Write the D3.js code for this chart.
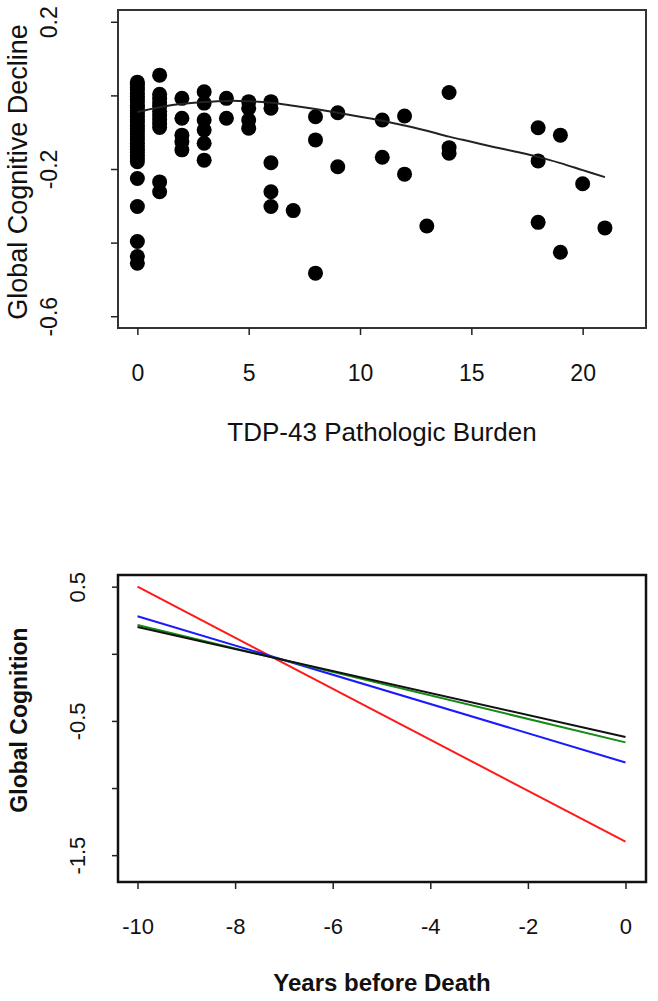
<!DOCTYPE html>
<html><head><meta charset="utf-8">
<script src="https://cdn.jsdelivr.net/npm/d3@7"></script>
<style>
body{margin:0;background:#fff}
text{font-family:"Liberation Sans", Arial, Helvetica, sans-serif;fill:#111}
</style>
</head><body>
<svg id="c" width="658" height="1001"></svg>
<script>
// ---------- Top panel data: TDP-43 burden vs global cognitive decline ----------
const tdpBurden = [
  0,0,0,0,0,0,0,0,0,0,0,0,0,0,0,0,0,0,0,0,0,0,0,0,0,0,0,0,0,0,0,0,0,
  1,1,1,1,1,1,1,1,1,1,1,1,
  2,2,2,2,2,
  3,3,3,3,3,3,
  4,4,
  5,5,5,5,
  6,6,6,6,6,
  7,
  8,8,8,
  9,9,
  11,11,
  12,12,
  13,
  14,14,14,
  18,18,18,
  19,19,
  20,
  21
];
const cogDecline = [
  0.036,0.030,0.021,0.015,0.006,-0.002,-0.011,-0.018,-0.027,-0.033,-0.042,-0.050,-0.057,-0.066,-0.072,-0.081,-0.090,-0.097,-0.105,-0.113,-0.121,-0.130,-0.138,-0.146,-0.155,-0.163,-0.170,-0.180,-0.226,-0.302,-0.397,-0.438,-0.456,
  0.055,0.003,-0.008,-0.020,-0.030,-0.043,-0.055,-0.066,-0.077,-0.087,-0.235,-0.262,
  -0.008,-0.062,-0.108,-0.126,-0.148,
  0.010,-0.021,-0.067,-0.094,-0.130,-0.176,
  -0.008,-0.062,
  -0.017,-0.035,-0.067,-0.089,
  -0.017,-0.035,-0.183,-0.262,-0.302,
  -0.313,
  -0.058,-0.121,-0.483,
  -0.047,-0.194,
  -0.067,-0.168,
  -0.056,-0.214,
  -0.355,
  0.008,-0.142,-0.157,
  -0.088,-0.178,-0.345,
  -0.108,-0.426,
  -0.240,
  -0.360
];
// smooth fit
const fitX = [0,1,2,3,4,5,6,7,8,9,10,11,12,13,14,15,16,17,18,19,20,21];
const fitY = [-0.045,-0.032,-0.023,-0.018,-0.015,-0.016,-0.020,-0.028,-0.037,-0.047,-0.058,-0.069,-0.082,-0.096,-0.112,-0.126,-0.140,-0.153,-0.167,-0.184,-0.203,-0.222];
const topXTicks = [0,5,10,15,20];
const topYTicks = [0.2,0,-0.2,-0.4,-0.6];
const topYTickLabels = ["0.2","","-0.2","","-0.6"];

// ---------- Bottom panel data: trajectories ----------
const years = [-10, 0];
const redLine   = [0.50, -1.40];
const blueLine  = [0.28, -0.81];
const greenLine = [0.215, -0.66];
const blackLine = [0.20, -0.62];
const botXTicks = [-10,-8,-6,-4,-2,0];
const botYTicks = [0.5,0,-0.5,-1,-1.5];
const botYTickLabels = ["0.5","","-0.5","","-1.5"];

const svg = d3.select("#c");
const fmt = d => String(d);

// ===== TOP PANEL =====
const tx = d3.scaleLinear().domain([-0.87, 22.8]).range([118, 645]);
const ty = d3.scaleLinear().domain([-0.632, 0.232]).range([328, 10]);
const topG = svg.append("g");

topG.selectAll("circle").data(tdpBurden).join("circle")
  .attr("cx", d => tx(d))
  .attr("cy", (d,i) => ty(cogDecline[i]))
  .attr("r", 7.5)
  .attr("fill", "#000");

topG.append("path")
  .datum(fitX.map((d,i)=>[d, fitY[i]]))
  .attr("d", d3.line().x(d=>tx(d[0])).y(d=>ty(d[1])).curve(d3.curveCatmullRom))
  .attr("fill","none").attr("stroke","#222").attr("stroke-width",2);

topG.append("rect").attr("x",118).attr("y",10).attr("width",528).attr("height",318)
  .attr("fill","none").attr("stroke","#333").attr("stroke-width",2);

const txAxis = topG.append("g").attr("transform","translate(0,328)")
  .call(d3.axisBottom(tx).tickValues(topXTicks).tickSize(7).tickFormat(fmt));
txAxis.select(".domain").remove();
txAxis.selectAll("line").attr("stroke","#222").attr("stroke-width",1.5);
txAxis.selectAll("text").attr("y",45).attr("dy","0.35em").style("font-size","23px").attr("fill","#111");

const tyAxis = topG.append("g").attr("transform","translate(118,0)")
  .call(d3.axisLeft(ty).tickValues(topYTicks).tickSize(7).tickFormat((d,i)=>topYTickLabels[i]));
tyAxis.select(".domain").remove();
tyAxis.selectAll("line").attr("stroke","#222").attr("stroke-width",1.5);
tyAxis.selectAll("text").attr("x",null).attr("dy",null)
  .attr("transform","translate(-61,0) rotate(-90)")
  .attr("text-anchor","middle").style("font-size","23px").attr("fill","#111");

topG.append("text").attr("x",382).attr("y",432).attr("dy","0.35em")
  .attr("text-anchor","middle").style("font-size","26px").text("TDP-43 Pathologic Burden");
topG.append("text").attr("transform","translate(27,172) rotate(-90)")
  .attr("text-anchor","middle").style("font-size","27px").text("Global Cognitive Decline");

// ===== BOTTOM PANEL =====
const bx = d3.scaleLinear().domain([-10.4, 0.4]).range([118, 645]);
const by = d3.scaleLinear().domain([-1.70, 0.587]).range([882, 575]);
const botG = svg.append("g");

const lineGen = d3.line().x(d=>bx(d[0])).y(d=>by(d[1]));
const series = [
  {vals: redLine, color: "#ff1a1a"},
  {vals: blueLine, color: "#1a1aff"},
  {vals: greenLine, color: "#138a13"},
  {vals: blackLine, color: "#111"}
];
botG.selectAll("path.s").data(series).join("path").attr("class","s")
  .attr("d", s => lineGen(years.map((y,i)=>[y, s.vals[i]])))
  .attr("fill","none").attr("stroke", s=>s.color).attr("stroke-width",2);

botG.append("rect").attr("x",118).attr("y",575).attr("width",528).attr("height",307)
  .attr("fill","none").attr("stroke","#111").attr("stroke-width",2.5);

const bxAxis = botG.append("g").attr("transform","translate(0,882)")
  .call(d3.axisBottom(bx).tickValues(botXTicks).tickSize(7).tickFormat(fmt));
bxAxis.select(".domain").remove();
bxAxis.selectAll("line").attr("stroke","#222").attr("stroke-width",1.5);
bxAxis.selectAll("text").attr("y",44).attr("dy","0.35em").style("font-size","22px").attr("fill","#111");

const byAxis = botG.append("g").attr("transform","translate(118,0)")
  .call(d3.axisLeft(by).tickValues(botYTicks).tickSize(6).tickFormat((d,i)=>botYTickLabels[i]));
byAxis.select(".domain").remove();
byAxis.selectAll("line").attr("stroke","#222").attr("stroke-width",1.5);
byAxis.selectAll("text").attr("x",null).attr("dy",null)
  .attr("transform","translate(-33,0) rotate(-90)")
  .attr("text-anchor","middle").style("font-size","22px").attr("fill","#111");

botG.append("text").attr("x",382).attr("y",983).attr("dy","0.35em")
  .attr("text-anchor","middle").style("font-size","24px").style("font-weight","bold").text("Years before Death");
botG.append("text").attr("transform","translate(27,720) rotate(-90)")
  .attr("text-anchor","middle").style("font-size","23px").style("font-weight","bold").text("Global Cognition");
</script>
</body></html>
